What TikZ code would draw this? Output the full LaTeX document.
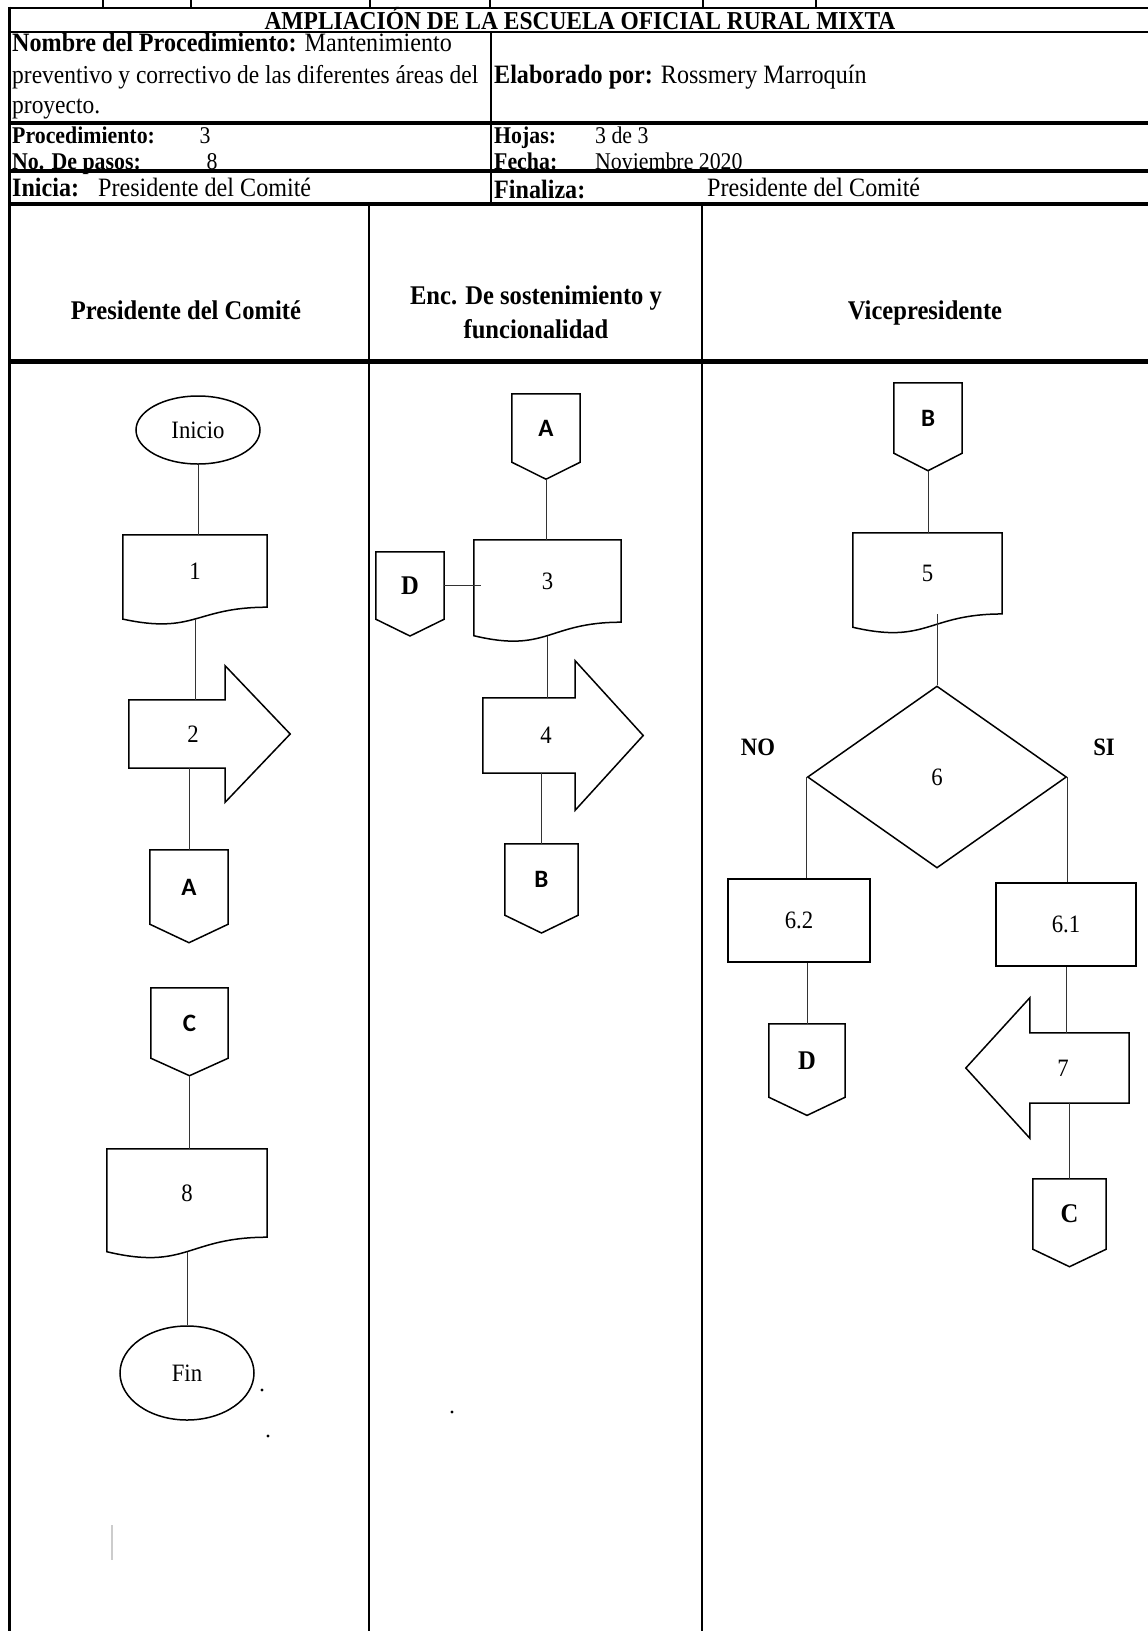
\documentclass[tikz,border=0pt]{standalone}
\usepackage{fontspec}
\setmainfont{Liberation Serif}[FakeStretch=0.91]
\newfontfamily\calfont{Carlito}
\usetikzlibrary{shapes.geometric,calc}
\newcommand{\hfsz}{\fontsize{26.5}{30}\selectfont}
\newcommand{\hfszb}{\fontsize{25.8}{30}\selectfont}
\newcommand{\hfszc}{\fontsize{24}{28}\selectfont}
\newcommand{\colfsz}{\fontsize{27}{30}\selectfont}
\newcommand{\ffsz}{\fontsize{25}{28}\selectfont}
\newcommand{\tfsz}{\fontsize{27}{30}\selectfont}
\newcommand{\cfsz}{\calfont\fontsize{25}{28}\selectfont\bfseries}
\begin{document}
\begin{tikzpicture}[x=1pt,y=-1pt,
  shp/.style={line width=1.5pt, line join=miter},
  lnk/.style={line width=0.8pt, draw=black!80},
  hd/.style={inner sep=0pt, anchor=base west, font=\hfsz},
  hr/.style={inner sep=0pt, anchor=base west, font=\hfszc},
  hc/.style={inner sep=0pt, anchor=base, font=\colfsz\bfseries},
  box/.style={rectangle, inner sep=0pt, font=\ffsz},
  cbox/.style={rectangle, inner sep=0pt, font=\cfsz},
  tbox/.style={rectangle, inner sep=0pt, font=\tfsz\bfseries},
  lbl/.style={inner sep=0pt, font=\ffsz\bfseries},
]
\fill[white] (0,0) rectangle (1148,1631);
\useasboundingbox (0,0) rectangle (1148,1631);

% ---------------- table ----------------
\foreach \t in {103,191,370,490,703,816} \draw[line width=1.2pt] (\t,0) -- (\t,8);
\draw[line width=2pt] (9,8) -- (1148,8);
\draw[line width=3pt] (9,6.5) -- (9,1631);
\draw[line width=2pt] (9,32) -- (1148,32);
\draw[line width=3.5pt] (9,123) -- (1148,123);
\draw[line width=3.5pt] (9,171) -- (1148,171);
\draw[line width=3.5pt] (9,204) -- (1148,204);
\draw[line width=5pt] (9,361) -- (1148,361);
\draw[line width=2pt] (491,32) -- (491,204);
\draw[line width=2.5pt] (369,204) -- (369,1631);
\draw[line width=2.5pt] (702,204) -- (702,1631);

% ---------------- header texts ----------------
\node[hc, font=\hfszb\bfseries] (title) at (580,29) {AMPLIACIÓN DE LA ESCUELA OFICIAL RURAL MIXTA};
\node[hd] (nom1) at (12,51) {\textbf{Nombre del Procedimiento:}\hspace{8pt}Mantenimiento};
\node[hd, font=\hfszb] (nom2) at (12,83) {preventivo y correctivo de las diferentes áreas del};
\node[hd, font=\hfszb] (nom3) at (12,113) {proyecto.};
\node[hd] (elab) at (494,83) {\textbf{Elaborado por:}\hspace{8pt}Rossmery Marroquín};
\node[hr] (proc) at (12,143.5) {\textbf{Procedimiento:}};
\node[inner sep=0pt, anchor=base, font=\hfszc] (procv) at (205,143.5) {3};
\node[hr] (pasos) at (12,169.5) {\textbf{No. De pasos:}};
\node[inner sep=0pt, anchor=base, font=\hfszc] (pasosv) at (212,169.5) {8};
\node[hr] (hoj) at (494,143.5) {\textbf{Hojas:}};
\node[hr] (hojv) at (595,143.5) {3 de 3};
\node[hr] (fec) at (494,169.5) {\textbf{Fecha:}};
\node[hr] (fecv) at (595,169.5) {Noviembre 2020};
\node[hd] (ini1) at (12,196) {\textbf{Inicia:}};
\node[hd] (ini2) at (98,196) {Presidente del Comité};
\node[hd] (fin1) at (494,198) {\textbf{Finaliza:}};
\node[hd] (fin2) at (707,196) {Presidente del Comité};
\node[hc] (col1) at (186,319) {Presidente del Comité};
\node[hc] (col2a) at (536,304) {Enc. De sostenimiento y};
\node[hc] (col2b) at (536,338) {funcionalidad};
\node[hc] (col3) at (925,319) {Vicepresidente};

% ---------------- left column ----------------
\node[ellipse, draw, shp, inner sep=0pt, minimum width=124pt, minimum height=68pt, font=\ffsz] (inicio) at (198,430) {Inicio};
\node[box, minimum width=144pt, minimum height=72pt] (d1) at (195,571) {1};
\draw[shp] (d1.north west) -- (d1.north east) -- (d1.south east)
  .. controls (d1.south) and ($(d1.south)+(0,27.5)$) .. ($(d1.south west)+(0,11.9)$) -- cycle;
\node[box, minimum width=96pt, minimum height=68pt] (a2) at (177,734) {\hspace*{32pt}2};
\draw[shp] (a2.north west) -- (a2.north east) -- ($(a2.north east)+(0,-34)$) -- ($(a2.east)+(65,0)$)
  -- ($(a2.south east)+(0,34)$) -- (a2.south east) -- (a2.south west) -- cycle;
\node[cbox, minimum width=78pt, minimum height=74pt] (cAl) at (189,887) {A};
\draw[shp] (cAl.north west) -- (cAl.north east) -- (cAl.south east) -- ($(cAl.south)+(0,18.5)$) -- (cAl.south west) -- cycle;
\node[cbox, minimum width=77pt, minimum height=70pt] (cCl) at (189.5,1023) {C};
\draw[shp] (cCl.north west) -- (cCl.north east) -- (cCl.south east) -- ($(cCl.south)+(0,17.5)$) -- (cCl.south west) -- cycle;
\node[box, minimum width=160pt, minimum height=88pt] (d8) at (187,1193) {8};
\draw[shp] (d8.north west) -- (d8.north east) -- (d8.south east)
  .. controls (d8.south) and ($(d8.south)+(0,33.6)$) .. ($(d8.south west)+(0,14.5)$) -- cycle;
\node[ellipse, draw, shp, inner sep=0pt, minimum width=134pt, minimum height=94pt, font=\ffsz] (fin) at (187,1373) {Fin};

\draw[lnk] (inicio.south) -- (inicio.south |- d1.north);
\draw[lnk] ($(d1.south)+(0,11.8)$) -- (d1.south |- a2.north);
\draw[lnk] (cAl.north |- a2.south) -- (cAl.north);
\draw[lnk] ($(cCl.south)+(0,17.5)$) -- (cCl.south |- d8.north);
\draw[lnk] ($(d8.south)+(0,14.4)$) -- (fin.north);

% ---------------- middle column ----------------
\node[cbox, minimum width=68pt, minimum height=68pt] (cAm) at (546,428) {A};
\draw[shp] (cAm.north west) -- (cAm.north east) -- (cAm.south east) -- ($(cAm.south)+(0,17)$) -- (cAm.south west) -- cycle;
\node[box, minimum width=147pt, minimum height=82pt] (d3) at (547.5,581) {3};
\draw[shp] (d3.north west) -- (d3.north east) -- (d3.south east)
  .. controls (d3.south) and ($(d3.south)+(0,31.2)$) .. ($(d3.south west)+(0,13.5)$) -- cycle;
\node[tbox, minimum width=68pt, minimum height=67pt] (cDm) at (410,585.5) {D};
\draw[shp] (cDm.north west) -- (cDm.north east) -- (cDm.south east) -- ($(cDm.south)+(0,16.8)$) -- (cDm.south west) -- cycle;
\node[box, minimum width=92pt, minimum height=75pt] (a4) at (529,735.5) {\hspace*{34pt}4};
\draw[shp] (a4.north west) -- (a4.north east) -- ($(a4.north east)+(0,-37)$) -- ($(a4.east)+(68,0)$)
  -- ($(a4.south east)+(0,37)$) -- (a4.south east) -- (a4.south west) -- cycle;
\node[cbox, minimum width=73pt, minimum height=71pt] (cBm) at (541.5,879.5) {B};
\draw[shp] (cBm.north west) -- (cBm.north east) -- (cBm.south east) -- ($(cBm.south)+(0,17.8)$) -- (cBm.south west) -- cycle;

\draw[lnk] ($(cAm.south)+(0,17)$) -- (cAm.south |- d3.north);
\draw[lnk] (cDm.east) -- ($(cDm.east -| d3.west)+(7,0)$);
\draw[lnk] ($(d3.south)+(0,13.4)$) -- (d3.south |- a4.north);
\draw[lnk] (cBm.north |- a4.south) -- (cBm.north);

% ---------------- right column ----------------
\node[cbox, minimum width=68pt, minimum height=70pt] (cBr) at (928,418) {B};
\draw[shp] (cBr.north west) -- (cBr.north east) -- (cBr.south east) -- ($(cBr.south)+(0,17.5)$) -- (cBr.south west) -- cycle;
\node[box, minimum width=149pt, minimum height=80.7pt] (d5) at (927.5,573.4) {5};
\draw[shp] (d5.north west) -- (d5.north east) -- (d5.south east)
  .. controls (d5.south) and ($(d5.south)+(0,30.7)$) .. ($(d5.south west)+(0,13.3)$) -- cycle;
\node[diamond, draw, shp, inner sep=0pt, minimum width=259pt, minimum height=182pt, font=\ffsz] (d6) at (937,777) {6};
\node[lbl] (no) at (758,747) {NO};
\node[lbl] (si) at (1104,747) {SI};
\node[box, draw, shp, minimum width=142pt, minimum height=83pt] (b62) at (799,920.5) {6.2};
\node[box, draw, shp, minimum width=140pt, minimum height=83pt] (b61) at (1066,924.5) {6.1};
\node[tbox, minimum width=76pt, minimum height=73pt] (cDr) at (807,1060.5) {D};
\draw[shp] (cDr.north west) -- (cDr.north east) -- (cDr.south east) -- ($(cDr.south)+(0,18.2)$) -- (cDr.south west) -- cycle;
\node[box, minimum width=99pt, minimum height=70pt] (a7) at (1079.5,1068) {7\hspace*{33pt}};
\draw[shp] (a7.north east) -- (a7.north west) -- ($(a7.north west)+(0,-35)$) -- ($(a7.west)+(-64,0)$)
  -- ($(a7.south west)+(0,35)$) -- (a7.south west) -- (a7.south east) -- cycle;
\node[tbox, minimum width=73pt, minimum height=70pt] (cCr) at (1069.5,1214) {C};
\draw[shp] (cCr.north west) -- (cCr.north east) -- (cCr.south east) -- ($(cCr.south)+(0,17.5)$) -- (cCr.south west) -- cycle;

\draw[lnk] ($(cBr.south)+(0,17.5)$) -- (cBr.south |- d5.north);
\draw[lnk] (d6.north) -- (d6.north |- d5.south);
\draw[lnk] (d6.west) -- (d6.west |- b62.north);
\draw[lnk] (d6.east) -- (d6.east |- b61.north);
\draw[lnk] (cDr.north |- b62.south) -- (cDr.north);
\draw[lnk] (b61.south) -- (b61.south |- a7.north);
\draw[lnk] (cCr.north |- a7.south) -- (cCr.north);

% ---------------- stray marks ----------------
\fill (262,1390) circle (1.6pt);
\fill (268,1436) circle (1.6pt);
\fill (452,1412) circle (1.6pt);
\draw[line width=1.5pt, black!20] (112,1525) -- (112,1560);
\end{tikzpicture}
\end{document}
